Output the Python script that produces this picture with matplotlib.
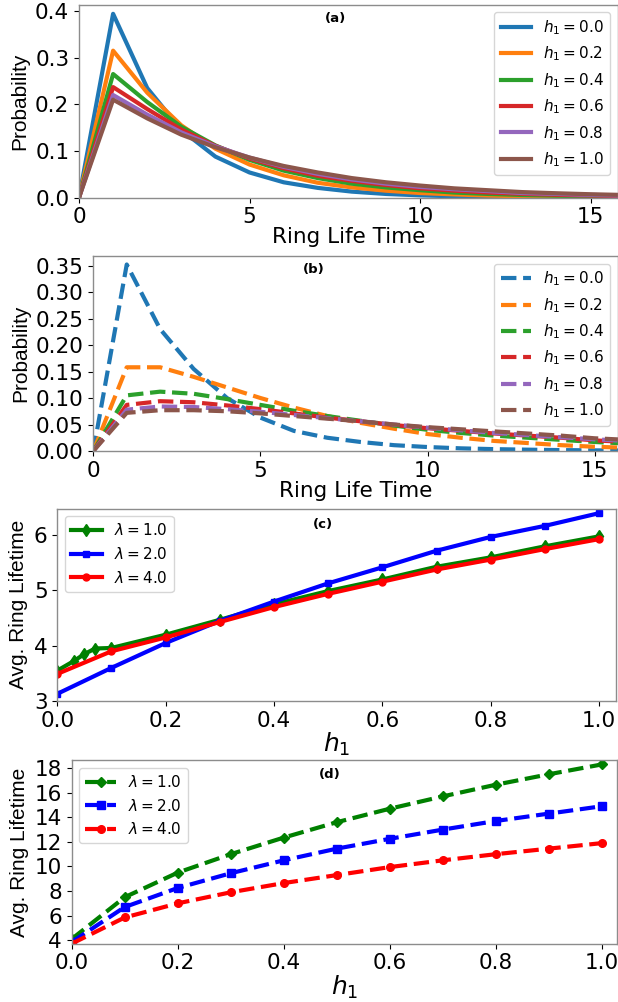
import numpy as np
import matplotlib
matplotlib.use("Agg")
import matplotlib.pyplot as plt

# ---- data ----
t = list(range(17))
h1_labels = ["0.0", "0.2", "0.4", "0.6", "0.8", "1.0"]

# panel (a): solid curves
prob_a = [
    [0, .394, .235, .145, .088, .054, .033, .021, .013, .008, .005, .003, .002, .0013, .0008, .0005, .0003],
    [0, .315, .225, .155, .105, .071, .048, .032, .022, .015, .010, .007, .0045, .003, .002, .0014, .001],
    [0, .265, .205, .152, .112, .081, .058, .042, .030, .022, .016, .011, .008, .0058, .0042, .003, .0022],
    [0, .237, .190, .146, .111, .084, .063, .047, .036, .027, .020, .015, .011, .0083, .0062, .0046, .0034],
    [0, .220, .178, .140, .110, .086, .066, .051, .039, .030, .023, .018, .014, .010, .008, .006, .0046],
    [0, .210, .170, .135, .108, .086, .068, .054, .042, .033, .026, .020, .016, .012, .0095, .0074, .0058],
]

# panel (b): dashed curves
prob_b = [
    [0, .352, .230, .155, .100, .063, .038, .025, .017, .011, .0075, .005, .0035, .0025, .0017, .0012, .0008],
    [0, .158, .158, .140, .120, .100, .082, .066, .053, .042, .032, .025, .019, .015, .011, .008, .006],
    [0, .105, .112, .108, .098, .087, .076, .066, .057, .048, .040, .034, .029, .025, .021, .017, .014],
    [0, .087, .094, .092, .086, .079, .071, .063, .056, .049, .043, .038, .033, .029, .025, .020, .017],
    [0, .078, .084, .083, .079, .074, .068, .062, .056, .050, .044, .039, .034, .030, .026, .022, .019],
    [0, .072, .077, .077, .075, .071, .066, .061, .056, .050, .045, .041, .037, .033, .029, .024, .021],
]

# panel (c)
h_c1 = [0, .03, .05, .07, .1, .2, .3, .4, .5, .6, .7, .8, .9, 1.0]
life_c1 = [3.55, 3.72, 3.85, 3.95, 3.96, 4.2, 4.47, 4.75, 4.99, 5.2, 5.43, 5.6, 5.8, 5.98]
h_c = [0, .1, .2, .3, .4, .5, .6, .7, .8, .9, 1.0]
life_c2 = [3.13, 3.6, 4.05, 4.45, 4.8, 5.13, 5.42, 5.72, 5.97, 6.17, 6.4]
life_c4 = [3.49, 3.9, 4.15, 4.43, 4.7, 4.94, 5.16, 5.38, 5.56, 5.75, 5.93]

# panel (d)
h_d = [0, .1, .2, .3, .4, .5, .6, .7, .8, .9, 1.0]
life_d1 = [4.1, 7.5, 9.5, 11.0, 12.35, 13.6, 14.7, 15.7, 16.65, 17.5, 18.3]
life_d2 = [3.85, 6.7, 8.25, 9.45, 10.5, 11.45, 12.25, 13.0, 13.7, 14.3, 14.9]
life_d4 = [3.72, 5.85, 7.0, 7.9, 8.65, 9.3, 9.95, 10.5, 11.0, 11.45, 11.9]

colors = ["#1f77b4", "#ff7f0e", "#2ca02c", "#d62728", "#9467bd", "#8c564b"]

fig = plt.figure(figsize=(6.18, 10.02), dpi=100)
ax1 = fig.add_axes([0.1278, 0.8027, 0.8722, 0.1926])
ax2 = fig.add_axes([0.151, 0.5499, 0.849, 0.1946])
ax3 = fig.add_axes([0.0927, 0.3004, 0.9041, 0.1919])
ax4 = fig.add_axes([0.116, 0.0582, 0.8824, 0.1830])

ylab_font = dict(family="Liberation Sans", fontsize=15)
TICK = 15.5
LEG = 11

for ax in [ax1, ax2, ax3, ax4]:
    for s in ax.spines.values():
        s.set_color("0.55")
        s.set_linewidth(1.0)
    ax.tick_params(labelsize=TICK)

# (a)
for i in range(6):
    ax1.plot(t, prob_a[i], color=colors[i], lw=3, label=r"$h_1 = $" + h1_labels[i])
ax1.set_xlim(0, 15.8)
ax1.set_ylim(0, 0.4135)
ax1.set_xticks([0, 5, 10, 15])
ax1.set_yticks([0, 0.1, 0.2, 0.3, 0.4])
ax1.set_xlabel("Ring Life Time", fontsize=TICK, labelpad=0)
ax1.set_ylabel("Probability", **ylab_font)
ax1.legend(loc="upper right", fontsize=LEG)
ax1.text(0.475, 0.93, "(a)", transform=ax1.transAxes, fontsize=9.5,
         fontweight="bold", ha="center", va="center")

# (b)
for i in range(6):
    ax2.plot(t, prob_b[i], color=colors[i], lw=3, ls="--", label=r"$h_1 = $" + h1_labels[i])
ax2.set_xlim(0, 15.7)
ax2.set_ylim(0, 0.368)
ax2.set_xticks([0, 5, 10, 15])
ax2.set_yticks([0, 0.05, 0.1, 0.15, 0.2, 0.25, 0.3, 0.35])
ax2.set_yticklabels(["0.00", "0.05", "0.10", "0.15", "0.20", "0.25", "0.30", "0.35"])
ax2.set_xlabel("Ring Life Time", fontsize=TICK, labelpad=0)
ax2.set_ylabel("Probability", **ylab_font)
ax2.legend(loc="upper right", fontsize=LEG)
ax2.text(0.42, 0.93, "(b)", transform=ax2.transAxes, fontsize=9.5,
         fontweight="bold", ha="center", va="center")

# (c)
ax3.plot(h_c1, life_c1, color="green", lw=3, marker="d", ms=6, label=r"$\lambda = 1.0$")
ax3.plot(h_c, life_c2, color="blue", lw=3, marker="s", ms=5, label=r"$\lambda = 2.0$")
ax3.plot(h_c, life_c4, color="red", lw=3, marker="o", ms=5, label=r"$\lambda = 4.0$")
ax3.set_xlim(0, 1.031)
ax3.set_ylim(3, 6.48)
ax3.set_yticks([3, 4, 5, 6])
ax3.set_xticks([0, 0.2, 0.4, 0.6, 0.8, 1.0])
ax3.set_xlabel(r"$h_1$", fontsize=18, labelpad=0)
ax3.set_ylabel("Avg. Ring Lifetime", **ylab_font)
ax3.legend(loc="upper left", fontsize=LEG)
ax3.text(0.475, 0.918, "(c)", transform=ax3.transAxes, fontsize=9.5,
         fontweight="bold", ha="center", va="center")

# (d)
ax4.plot(h_d, life_d1, color="green", lw=3, ls="--", marker="D", ms=5.5, label=r"$\lambda = 1.0$")
ax4.plot(h_d, life_d2, color="blue", lw=3, ls="--", marker="s", ms=5.5, label=r"$\lambda = 2.0$")
ax4.plot(h_d, life_d4, color="red", lw=3, ls="--", marker="o", ms=5.5, label=r"$\lambda = 4.0$")
ax4.set_xlim(0, 1.028)
ax4.set_ylim(3.72, 18.63)
ax4.set_yticks([4, 6, 8, 10, 12, 14, 16, 18])
ax4.set_xticks([0, 0.2, 0.4, 0.6, 0.8, 1.0])
ax4.set_xlabel(r"$h_1$", fontsize=18, labelpad=0)
ax4.set_ylabel("Avg. Ring Lifetime", **ylab_font)
ax4.legend(loc="upper left", fontsize=LEG)
ax4.text(0.473, 0.92, "(d)", transform=ax4.transAxes, fontsize=9.5,
         fontweight="bold", ha="center", va="center")

fig.savefig("out.png", dpi=100)
